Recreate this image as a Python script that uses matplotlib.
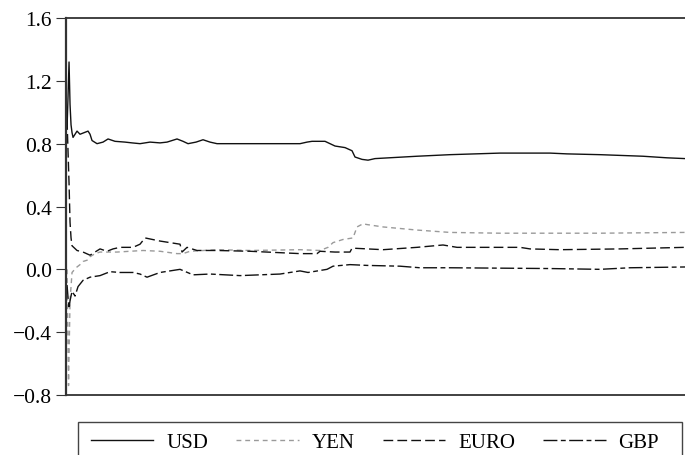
import matplotlib.pyplot as plt
from matplotlib.patches import Rectangle

plt.rcParams['font.family'] = ['Liberation Serif', 'DejaVu Serif']

# observation number (0 .. 1238) and value for each currency
usd_t = [2, 4, 6, 8, 10, 12, 14, 18, 22, 28, 36, 44, 48, 52, 62, 74, 84, 98, 118, 132,
         148, 168, 188, 202, 222, 234, 244, 260, 274, 288, 302, 368, 468, 482, 492, 518,
         528, 538, 558, 572, 578, 592, 604, 618, 702, 768, 868, 914, 968, 1002, 1068,
         1154, 1202, 1238]
usd_v = [0.90, 1.10, 1.32, 1.05, 0.92, 0.87, 0.84, 0.86, 0.88, 0.86, 0.87, 0.88, 0.86,
         0.82, 0.80, 0.81, 0.83, 0.815, 0.81, 0.805, 0.80, 0.81, 0.805, 0.81, 0.83, 0.815,
         0.80, 0.81, 0.825, 0.81, 0.80, 0.80, 0.80, 0.81, 0.815, 0.815, 0.80, 0.785, 0.775,
         0.755, 0.715, 0.70, 0.695, 0.705, 0.72, 0.73, 0.74, 0.74, 0.74, 0.735, 0.73, 0.72,
         0.71, 0.705]

yen_t = [2, 5, 6, 8, 12, 20, 28, 34, 44, 48, 58, 68, 102, 128, 154, 188, 222, 234,
         248, 302, 368, 468, 508, 524, 534, 554, 574, 582, 594, 602, 634, 702, 768,
         868, 968, 1068, 1238]
yen_v = [0.00, -0.74, -0.55, -0.20, -0.02, 0.01, 0.03, 0.05, 0.06, 0.08, 0.10, 0.11,
         0.11, 0.115, 0.12, 0.115, 0.10, 0.10, 0.115, 0.125, 0.12, 0.125, 0.12, 0.14,
         0.17, 0.19, 0.20, 0.27, 0.29, 0.285, 0.27, 0.25, 0.235, 0.23, 0.23, 0.23, 0.235]

euro_t = [2, 4, 6, 8, 10, 12, 22, 34, 48, 58, 68, 82, 94, 108, 134, 148, 158, 188,
          228, 232, 242, 262, 302, 368, 468, 502, 508, 538, 568, 572, 634, 702, 754,
          782, 908, 928, 988, 1108, 1238]
euro_v = [0.95, 0.75, 0.55, 0.30, 0.20, 0.15, 0.12, 0.11, 0.09, 0.11, 0.13, 0.115,
          0.13, 0.14, 0.14, 0.16, 0.20, 0.18, 0.16, 0.11, 0.14, 0.12, 0.12, 0.115,
          0.10, 0.10, 0.115, 0.11, 0.11, 0.135, 0.125, 0.14, 0.155, 0.14, 0.14, 0.13,
          0.125, 0.13, 0.14]

gbp_t = [2, 4, 6, 8, 12, 18, 24, 34, 48, 68, 88, 108, 134, 148, 162, 188, 208, 228,
         254, 288, 348, 428, 468, 484, 522, 534, 568, 602, 668, 708, 768, 968, 1068,
         1128, 1238]
gbp_v = [-0.10, -0.18, -0.25, -0.20, -0.14, -0.17, -0.11, -0.07, -0.05, -0.04, -0.015,
         -0.02, -0.02, -0.03, -0.05, -0.02, -0.01, 0.0, -0.035, -0.03, -0.04, -0.03,
         -0.01, -0.02, 0.0, 0.02, 0.03, 0.025, 0.02, 0.01, 0.01, 0.005, 0.0, 0.01, 0.015]

y_ticks = [-0.8, -0.4, 0.0, 0.4, 0.8, 1.2, 1.6]

fig = plt.figure(figsize=(6.85, 4.56), dpi=100)
ax = fig.add_axes([0.0964, 0.1316, 0.9036, 0.8267])

ax.plot(usd_t, usd_v, color='#111111', lw=1.0, label='USD')
ax.plot(yen_t, yen_v, color='#9a9a9a', lw=1.0, dashes=(3.5, 2.8), label='YEN')
ax.plot(euro_t, euro_v, color='#111111', lw=1.0, dashes=(7, 3), label='EURO')
ax.plot(gbp_t, gbp_v, color='#111111', lw=1.0, dashes=(10, 2.5, 3.5, 2.5), label='GBP')

ax.set_xlim(0, 1238)
ax.set_ylim(-0.8, 1.6)
ax.set_xticks([])
ax.set_yticks(y_ticks)
ax.set_yticklabels(['\u22120.8', '\u22120.4', '0.0', '0.4', '0.8', '1.2', '1.6'])
ax.tick_params(axis='y', direction='out', length=7, width=0.8, color='#333333',
               labelsize=15.5, pad=3)
ax.spines['right'].set_visible(False)
for side in ['left', 'top', 'bottom']:
    ax.spines[side].set_color('#333333')
ax.spines['left'].set_linewidth(1.6)
ax.spines['top'].set_linewidth(1.3)
ax.spines['bottom'].set_linewidth(1.3)

# legend box runs past the bottom edge of the figure
fig.patches.append(Rectangle((0.1139, -0.02), 0.8817, 0.0924, transform=fig.transFigure,
                             fill=False, edgecolor='#444444', lw=1.0))
fig.legend(loc='center left', bbox_to_anchor=(0.105, 0.027), ncol=4, frameon=False,
           fontsize=15, handlelength=3.0, handletextpad=0.62, columnspacing=1.35)

fig.savefig('out.png', dpi=100)
